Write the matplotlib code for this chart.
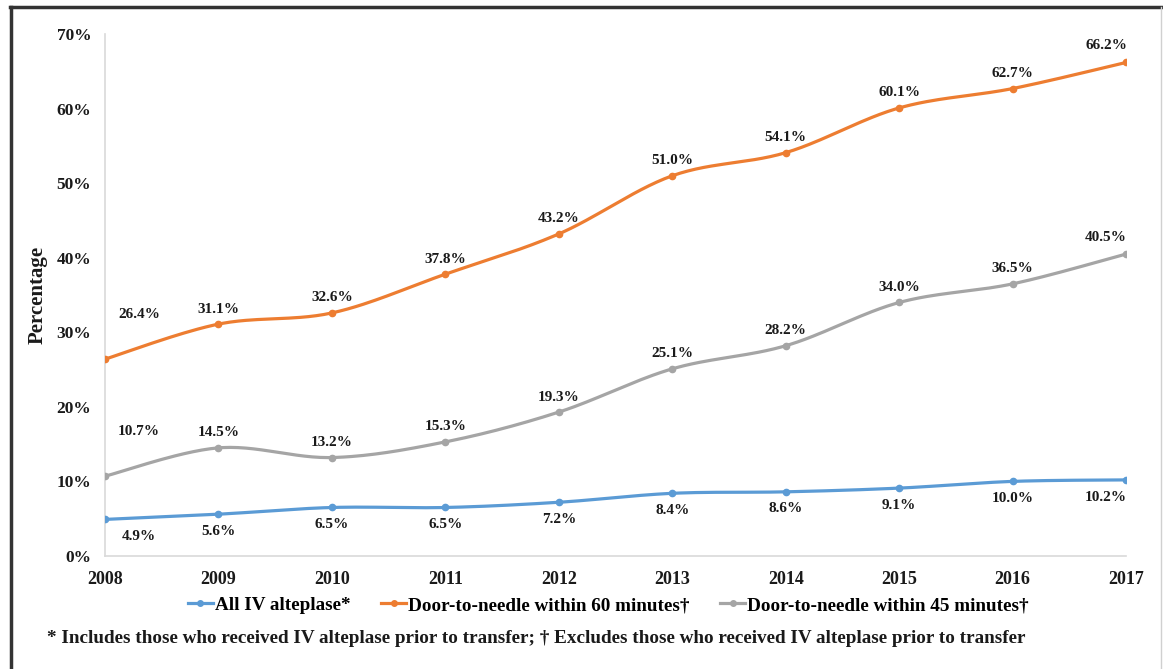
import numpy as np
import matplotlib.pyplot as plt
from matplotlib.lines import Line2D

years = [2008, 2009, 2010, 2011, 2012, 2013, 2014, 2015, 2016, 2017]
all_iv = [4.9, 5.6, 6.5, 6.5, 7.2, 8.4, 8.6, 9.1, 10.0, 10.2]
dtn_60 = [26.4, 31.1, 32.6, 37.8, 43.2, 51.0, 54.1, 60.1, 62.7, 66.2]
dtn_45 = [10.7, 14.5, 13.2, 15.3, 19.3, 25.1, 28.2, 34.0, 36.5, 40.5]

series_names = ["All IV alteplase*",
                "Door-to-needle within 60 minutes\u2020",
                "Door-to-needle within 45 minutes\u2020"]
colors = ["#5B9BD5", "#ED7D31", "#A5A5A5"]
footnote = ("* Includes those who received IV alteplase prior to transfer; "
            "\u2020 Excludes those who received IV alteplase prior to transfer")

plt.rcParams["font.family"] = ["Liberation Serif", "DejaVu Serif"]
plt.rcParams["font.weight"] = "bold"
TEXT = "#1a1a1a"


def smooth(x, y, n=30):
    # Catmull-Rom style bezier between points, like spreadsheet smoothing
    x = np.asarray(x, float)
    y = np.asarray(y, float)
    px = np.concatenate([[x[0]], x, [x[-1]]])
    py = np.concatenate([[y[0]], y, [y[-1]]])
    t = np.linspace(0, 1, n)[:, None]
    xs, ys = [], []
    for i in range(1, len(x)):
        p0 = np.array([px[i - 1], py[i - 1]])
        p1 = np.array([px[i], py[i]])
        p2 = np.array([px[i + 1], py[i + 1]])
        p3 = np.array([px[i + 2], py[i + 2]])
        c1 = p1 + (p2 - p0) / 6
        c2 = p2 - (p3 - p1) / 6
        b = ((1 - t) ** 3) * p1 + 3 * ((1 - t) ** 2) * t * c1 \
            + 3 * (1 - t) * t ** 2 * c2 + t ** 3 * p2
        xs.append(b[:, 0])
        ys.append(b[:, 1])
    return np.concatenate(xs), np.concatenate(ys)


fig = plt.figure(figsize=(11.63, 6.69), dpi=100)
ax = fig.add_axes([0.0903, 0.169, 0.878, 0.780])

for vals, col in zip([all_iv, dtn_60, dtn_45], colors):
    sx, sy = smooth(years, vals)
    ax.plot(sx, sy, color=col, lw=2.3, solid_capstyle="round", zorder=3)
    ax.plot(years, vals, "o", color=col, ms=4.5, zorder=4)


# data labels: blue below, orange and gray above
def put_labels(vals, below):
    for i, (yr, v) in enumerate(zip(years, vals)):
        dx, dy = 0, (-17 if below else 15)
        if i == 0:
            dx = 34
            dy = -17 if below else 45
        elif i == len(years) - 1:
            dx = -20
            dy = -18 if below else 17
        ax.annotate(f"{v:.1f}%", (yr, v), xytext=(dx, dy),
                    textcoords="offset pixels", ha="center", va="center",
                    fontsize=11, fontweight="bold", color=TEXT)


put_labels(all_iv, True)
put_labels(dtn_60, False)
put_labels(dtn_45, False)

ax.set_xlim(2008, 2017)
ax.set_ylim(0, 70)
ax.set_xticks(years)
ax.set_yticks(range(0, 71, 10))
ax.set_yticklabels([f"{v}%" for v in range(0, 71, 10)])
ax.tick_params(length=0, colors=TEXT)
ax.tick_params(axis="x", pad=11, labelsize=13)
ax.tick_params(axis="y", pad=10, labelsize=12.5)
for lab in ax.get_xticklabels() + ax.get_yticklabels():
    lab.set_fontweight("bold")
for s in ["top", "right"]:
    ax.spines[s].set_visible(False)
for s in ["left", "bottom"]:
    ax.spines[s].set_color("#D9D9D9")
    ax.spines[s].set_linewidth(1.2)
ax.set_ylabel("Percentage", fontsize=15, fontweight="bold", labelpad=6,
              color=TEXT)

handles = [Line2D([0], [0], color=c, lw=2.3, marker="o", ms=4) for c in colors]
fig.legend(handles, series_names, loc="center", bbox_to_anchor=(0.523, 0.095),
           ncol=3, frameon=False, handlelength=1.3, handletextpad=0.1,
           columnspacing=1.6, prop={"size": 13.8, "weight": "bold"})

fig.text(0.04, 0.046, footnote, fontsize=13.8, fontweight="bold",
         ha="left", va="center", color=TEXT)

# outer frame: heavy left and top edges, faint right edge
fig.add_artist(Line2D([0.0095, 0.0095], [0, 0.989], transform=fig.transFigure,
                      color="#333333", lw=2.5))
fig.add_artist(Line2D([0.0085, 0.999], [0.989, 0.989], transform=fig.transFigure,
                      color="#333333", lw=2.5))
fig.add_artist(Line2D([0.9985, 0.9985], [0, 0.989], transform=fig.transFigure,
                      color="#D0D0D0", lw=1.0))

fig.savefig("out.png", dpi=100)
